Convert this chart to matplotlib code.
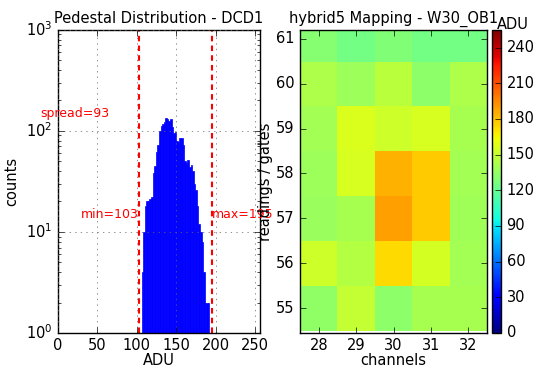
import numpy as np
import matplotlib
matplotlib.use("Agg")
import matplotlib.pyplot as plt

plt.style.use("classic")

# histogram of pedestals (2-ADU bins)
adu_edges = [106, 108, 110, 112, 114, 116, 118, 120, 122, 124, 126, 128, 130,
             132, 134, 136, 138, 140, 142, 144, 146, 148, 150, 152, 154, 156,
             158, 160, 162, 164, 166, 168, 170, 172, 174, 176, 178, 180, 182,
             184, 186, 188, 190, 192, 194]
counts = [4, 10, 18, 20, 20, 21, 22, 38, 45, 62, 72, 100, 112, 118, 122, 135,
          132, 126, 130, 110, 95, 98, 80, 78, 85, 84, 72, 50, 48, 52, 44, 46,
          40, 30, 26, 18, 12, 10, 8, 4, 2, 2, 2, 1]
ped_min = 103
ped_max = 195
spread = 93

# mapping
channels = [28, 29, 30, 31, 32]
gates = [55, 56, 57, 58, 59, 60, 61]
adu_map = [
    [134, 150, 133, 141, 141],   # 55
    [153, 145, 173, 155, 140],   # 56
    [137, 141, 189, 177, 139],   # 57
    [138, 156, 184, 177, 140],   # 58
    [140, 157, 153, 156, 141],   # 59
    [143, 138, 147, 133, 143],   # 60
    [131, 125, 129, 125, 125],   # 61
]
cbar_ticks = [0, 30, 60, 90, 120, 150, 180, 210, 240]

fig = plt.figure(figsize=(5.37, 3.72), dpi=100)
fig.patch.set_facecolor("white")

# left: pedestal distribution
ax = fig.add_axes([0.108, 0.105, 0.376, 0.815])
w = np.diff(adu_edges)
ax.bar(adu_edges[:-1], counts, width=w, align="edge", color="blue",
       edgecolor="blue", linewidth=0.5, log=True)
ax.axvline(ped_min, color="red", ls="--", lw=1.5, dashes=(4, 3))
ax.axvline(ped_max, color="red", ls="--", lw=1.5, dashes=(4, 3))
ax.text(ped_min, 15, f"min={ped_min}", color="red", ha="right", va="center", fontsize=9)
ax.text(ped_max, 15, f"max={ped_max}", color="red", ha="left", va="center", fontsize=9)
ax.text(-23, 150, f"spread={spread}", color="red", ha="left", va="center", fontsize=9)
ax.set_xlim(0, 256)
ax.set_ylim(1, 1000)
ax.set_xticks([0, 50, 100, 150, 200, 250])
ax.grid(True, color="0.4")
ax.set_title("Pedestal Distribution - DCD1", fontsize=10.5)
ax.set_xlabel("ADU", fontsize=10.5, labelpad=0)
ax.set_ylabel("counts", fontsize=10.5)
ax.tick_params(labelsize=10.5)

# right: hybrid mapping
ax2 = fig.add_axes([0.559, 0.105, 0.348, 0.815])
im = ax2.imshow(np.array(adu_map), origin="lower", cmap="jet", vmin=0, vmax=255,
                interpolation="nearest", aspect="auto",
                extent=[channels[0] - 0.5, channels[-1] + 0.5,
                        gates[0] - 0.5, gates[-1] + 0.5])
ax2.set_ylim(54.45, 61.2)
ax2.set_xticks(channels)
ax2.set_yticks(gates)
ax2.set_title("hybrid5 Mapping - W30_OB1", fontsize=10.5)
ax2.set_xlabel("channels", fontsize=10.5, labelpad=0)
ax2.set_ylabel("readings / gates", fontsize=10.5, labelpad=2)
ax2.tick_params(labelsize=10.5)

cax = fig.add_axes([0.916, 0.105, 0.017, 0.815])
cb = fig.colorbar(im, cax=cax, ticks=cbar_ticks)
cb.ax.tick_params(labelsize=10.5)
fig.text(0.925, 0.933, "ADU", fontsize=10.5, ha="left", va="center")

fig.savefig("out.png", dpi=100)
